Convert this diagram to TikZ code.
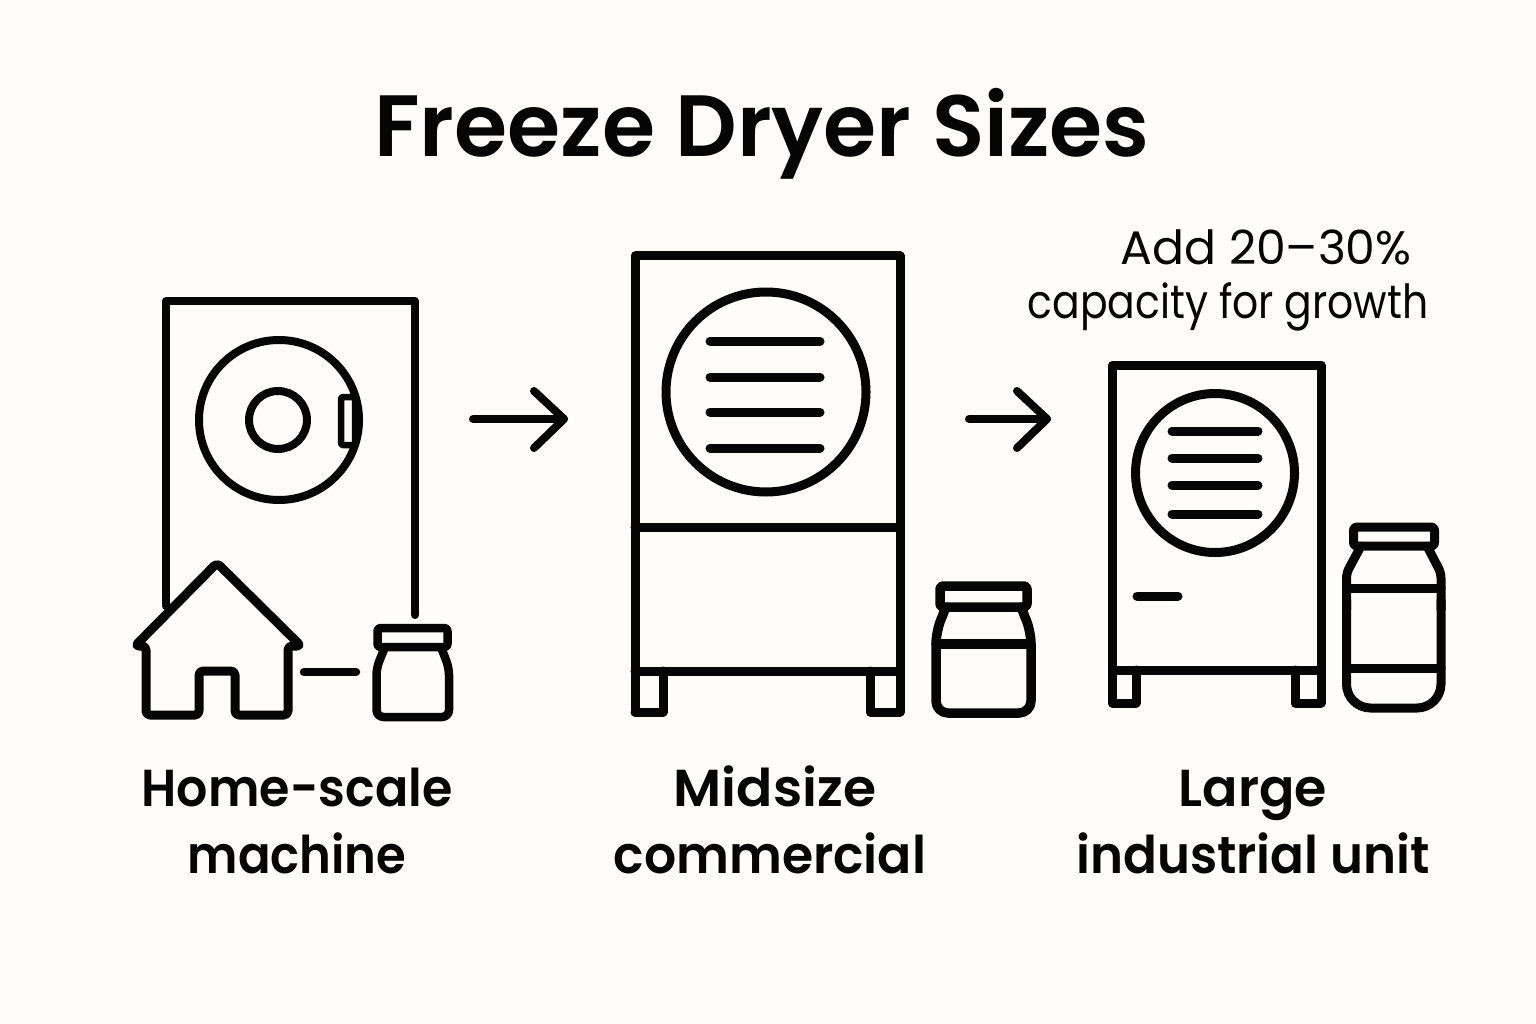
\documentclass[tikz,border=0pt]{standalone}
\usepackage{fontspec}
\setmainfont{Poppins}
\newfontfamily\medfont{Poppins SemiBold}
\definecolor{ink}{HTML}{050505}
\definecolor{paper}{HTML}{FEFDFB}
\tikzset{
 ln/.style={draw=ink,line width=#1,line cap=round,line join=round},
 ln/.default=9pt,
 titletext/.style={inner sep=0,anchor=base,text=ink,font=\medfont\fontsize{87}{87}\selectfont},
 labeltext/.style={inner sep=0,anchor=base,text=ink,font=\medfont\fontsize{52}{52}\selectfont},
 notetext/.style={inner sep=0,anchor=base,text=ink,font=\fontsize{47}{47}\selectfont},
}
\begin{document}
\begin{tikzpicture}[x=1pt,y=-1pt]
\useasboundingbox (0,0) rectangle (1536,1024);
\fill[paper] (0,0) rectangle (1536,1024);
\node[titletext,xscale=0.988] (title) at (762,157) {Freeze Dryer Sizes};
% home machine
\draw[ln=8pt] (166,606) -- (166,301) -- (415,301) -- (415,615);
\draw[ln=8pt] (279,420) circle (80);
\draw[ln=8pt] (278,420) circle (29);
\draw[ln=6.5pt,rounded corners=1.5pt,fill=paper] (341,397) rectangle (355,445);
% house
\draw[ln=9pt,fill=paper,rounded corners=4pt] (135,646) -- (217,563) -- (301,646) -- (288,646) -- (288,715) -- (235,715) -- (235,671) -- (199,671) -- (199,715) -- (146,715) -- (146,646) -- cycle;
\draw[ln=8.5pt] (304,672) -- (356,672);
% jar 1
\draw[ln=8.5pt,rounded corners=7pt] (385,647) -- (376.5,668) -- (376.5,717) -- (449,717) -- (449,668) -- (441,647);
\draw[ln=8.5pt,rounded corners=3pt] (377.5,628) rectangle (447.5,647);
% arrows
\coordinate (a1s) at (473,419); \coordinate (a1e) at (564,419);
\draw[ln=8pt] (a1s) -- (a1e);
\draw[ln=8pt] (534,391) -- (a1e) -- (534,448);
\coordinate (a2s) at (969,419); \coordinate (a2e) at (1047,419);
\draw[ln=8pt] (a2s) -- (a2e);
\draw[ln=8pt] (1017,391) -- (a2e) -- (1017,448);
% midsize
\draw[ln] (635,712) -- (635,256) -- (900,256) -- (900,712);
\draw[ln] (635,527) -- (900,527);
\draw[ln] (635,671) -- (900,671);
\draw[ln] (635,712) -- (663,712) -- (663,671);
\draw[ln] (900,712) -- (870,712) -- (870,671);
\draw[ln] (766,392) circle (100);
\foreach \yy in {341,377,412,448} \draw[ln] (710,\yy) -- (820,\yy);
% jar 2
\draw[ln=9.5pt,rounded corners=12pt] (946,607) -- (936,632) -- (936,713) -- (1031,713) -- (1031,632) -- (1021,607);
\draw[ln=9.5pt,rounded corners=3pt] (940,586) rectangle (1027,607);
\draw[ln=9.5pt] (936,644) -- (1031,644);
% large
\draw[ln] (1112,365) rectangle (1321,670);
\draw[ln] (1112,670) -- (1112,703) -- (1136,703) -- (1136,670);
\draw[ln] (1321,670) -- (1321,703) -- (1295,703) -- (1295,670);
\draw[ln] (1215,473) circle (79.5);
\foreach \yy in {431,458,485,514} \draw[ln] (1172,\yy) -- (1258,\yy);
\draw[ln] (1137,596) -- (1178,596);
% jar 3
\draw[ln,rounded corners=24pt] (1346.5,600) -- (1346.5,708) -- (1441,708) -- (1441,600);
\draw[ln,rounded corners=5pt] (1361,546) -- (1346.5,573) -- (1346.5,610);
\draw[ln,rounded corners=5pt] (1427,546) -- (1441,573) -- (1441,610);
\draw[ln,rounded corners=3pt] (1353.5,527) rectangle (1434.5,546);
\draw[ln] (1346.5,588) -- (1441,588);
\draw[ln] (1346.5,668) -- (1441,668);
% text
\node[notetext,xscale=1.007] (n1) at (1266,265) {Add 20–30\%};
\node[notetext,xscale=0.87] (n2) at (1228,318) {capacity for growth};
\node[labeltext,xscale=0.945] (l1a) at (297,806) {Home-scale};
\node[labeltext,xscale=0.925] (l1b) at (297,873) {machine};
\node[labeltext,xscale=1.03] (l2a) at (775,806) {Midsize};
\node[labeltext,xscale=0.97] (l2b) at (770,873) {commercial};
\node[labeltext,xscale=1.005] (l3a) at (1253,806) {Large};
\node[labeltext,xscale=0.96] (l3b) at (1253,873) {industrial unit};
\end{tikzpicture}
\end{document}
